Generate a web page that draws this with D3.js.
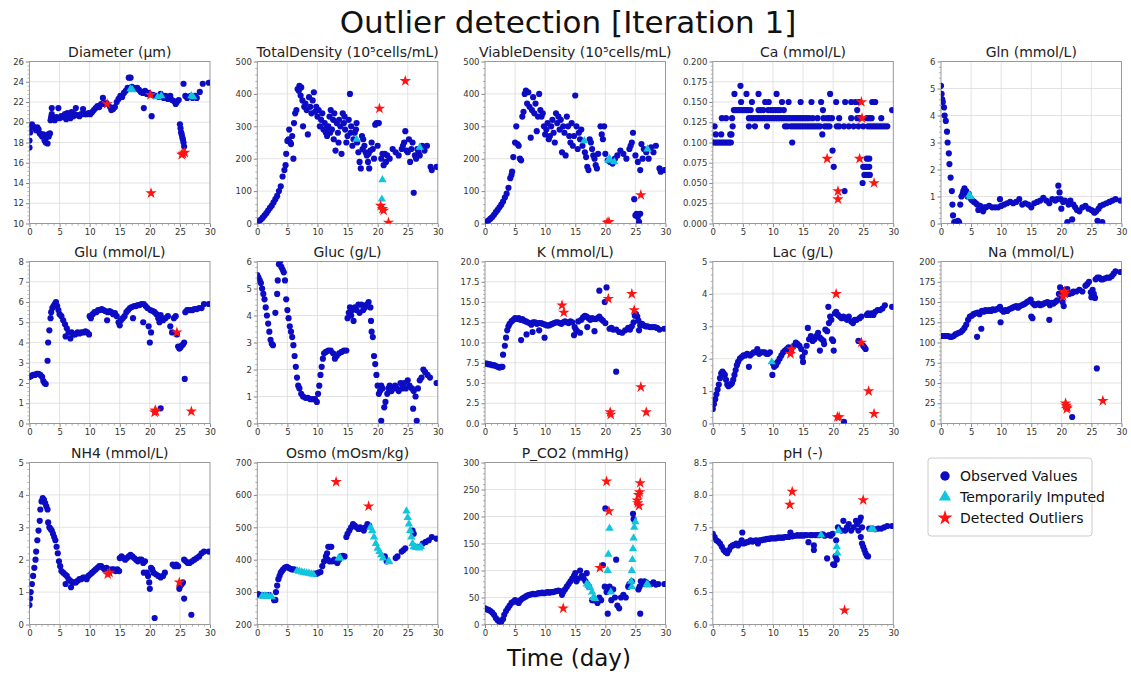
<!DOCTYPE html>
<html><head><meta charset="utf-8">
<script src="https://cdn.jsdelivr.net/npm/d3@7"></script>
<style>body{margin:0;background:#fff}svg{display:block}text{font-family:"DejaVu Sans",sans-serif}</style>
</head><body>
<svg id="c" width="1131" height="676"></svg>
<script>
// ---------- DATA ----------
const xTicks=[0,5,10,15,20,25,30];
const panelTitles=["Diameter (µm)","TotalDensity (10⁵cells/mL)","ViableDensity (10⁵cells/mL)","Ca (mmol/L)","Gln (mmol/L)","Glu (mmol/L)","Gluc (g/L)","K (mmol/L)","Lac (g/L)","Na (mmol/L)","NH4 (mmol/L)","Osmo (mOsm/kg)","P_CO2 (mmHg)","pH (-)"];
const diameterTicks=[10,12,14,16,18,20,22,24,26];
const densityTicks=[0,100,200,300,400,500];
const caTicks=[0,0.025,0.05,0.075,0.1,0.125,0.15,0.175,0.2];
const glnTicks=[0,1,2,3,4,5,6];
const gluTicks=[0,1,2,3,4,5,6,7,8];
const glucTicks=[0,1,2,3,4,5,6];
const kTicks=[0,2.5,5,7.5,10,12.5,15,17.5,20];
const lacTicks=[0,1,2,3,4,5];
const naTicks=[0,25,50,75,100,125,150,175,200];
const nh4Ticks=[0,1,2,3,4,5];
const osmoTicks=[200,300,400,500,600,700];
const pco2Ticks=[0,50,100,150,200,250,300];
const phTicks=[6.0,6.5,7.0,7.5,8.0,8.5];
const legendLabels=["Observed Values","Temporarily Imputed","Detected Outliers"];

const diameterObs=[[0,17.5],[0,18.2],[0.1,19.0],[0.2,19.5],[0.4,19.8],[0.6,19.6],[0.9,19.4],[1.1,19.2],[1.3,19.5],[1.5,19.3],[1.7,18.9],[1.9,18.8],[2.1,18.6],[2.3,18.8],[2.5,18.2],[2.7,18.0],[2.8,18.5],[3.0,17.9],[3.1,18.8],[3.2,18.6],[3.4,18.9],[3.5,20.2],[3.6,20.5],[3.7,20.8],[3.7,21.4],[3.8,20.3],[4.0,20.4],[4.2,20.2],[4.5,20.5],[4.8,21.4],[5.0,20.4],[5.3,20.6],[5.6,20.5],[5.9,20.8],[6.1,20.3],[6.3,20.9],[6.5,20.6],[6.8,20.4],[7.0,21.0],[7.3,20.6],[7.5,20.8],[7.7,21.4],[8.0,20.7],[8.3,20.6],[8.6,20.8],[8.9,21.3],[9.2,20.8],[9.5,20.8],[9.8,20.9],[10.1,20.8],[10.4,21.0],[10.7,21.2],[11.0,21.4],[11.3,21.6],[11.6,21.5],[11.9,21.8],[12.2,22.4],[12.5,21.8],[12.8,21.9],[13.4,21.5],[13.6,21.2],[13.9,21.3],[14.2,21.5],[14.5,22.0],[14.8,22.3],[15.1,22.6],[15.4,22.5],[15.7,22.9],[16.0,23.1],[16.3,23.4],[16.5,24.4],[16.8,24.4],[17.0,23.5],[17.3,23.4],[17.6,23.3],[17.9,23.4],[18.2,23.2],[18.5,23.0],[18.8,22.9],[19.0,21.4],[19.2,23.1],[19.5,22.8],[19.8,22.9],[20.3,20.6],[20.5,22.7],[21.0,22.6],[21.5,22.5],[21.8,22.8],[22.3,22.4],[22.6,22.6],[23.0,22.3],[23.4,22.6],[23.7,22.2],[24.0,22.1],[24.3,21.8],[24.5,22.0],[24.8,22.2],[25.0,19.8],[25.1,19.4],[25.2,19.0],[25.3,18.8],[25.4,18.5],[25.5,18.3],[25.6,18.0],[25.7,17.6],[25.6,23.8],[25.9,22.6],[26.2,22.4],[26.5,22.5],[26.8,22.6],[27.1,22.4],[27.5,22.6],[27.8,22.4],[28.3,23.0],[28.8,23.8],[29.8,23.9]];
const diameterImp=[[16.8,23.3],[17.1,23.2],[21.3,22.5],[21.9,22.6],[26.9,22.6],[27.2,22.5]];
const diameterOut=[[12.9,21.8],[20.1,22.7],[20.2,13.0],[25.3,16.8],[25.5,16.9],[25.8,17.0]];

const totalObs=[[0,5],[0.3,8],[0.6,12],[0.9,18],[1.2,25],[1.5,32],[1.8,40],[2.1,48],[2.4,55],[2.7,65],[3.0,75],[3.3,85],[3.6,100],[3.9,115],[4.2,145],[4.5,165],[4.7,180],[4.8,215],[5.0,255],[5.2,260],[5.3,290],[5.5,250],[5.6,245],[5.8,270],[6.0,200],[6.1,310],[6.3,340],[6.5,350],[6.7,415],[6.9,410],[7.0,425],[7.2,395],[7.3,420],[7.5,380],[7.6,300],[7.8,360],[8.0,370],[8.2,350],[8.4,275],[8.6,390],[8.8,360],[9.0,340],[9.2,380],[9.4,405],[9.6,345],[9.8,360],[10.0,330],[10.2,350],[10.4,300],[10.6,320],[10.8,340],[11.0,290],[11.2,310],[11.4,280],[11.5,295],[11.6,270],[11.8,300],[12.0,330],[12.1,280],[12.2,350],[12.4,290],[12.6,320],[12.7,260],[12.8,340],[13.0,225],[13.2,310],[13.4,280],[13.5,250],[13.6,320],[13.8,300],[14.0,215],[14.2,340],[14.4,310],[14.5,330],[14.6,290],[14.8,250],[15.0,270],[15.2,320],[15.4,400],[15.5,280],[15.6,300],[15.8,240],[16.0,260],[16.2,280],[16.4,290],[16.5,310],[16.6,250],[16.8,220],[17.0,190],[17.2,170],[17.4,270],[17.5,230],[17.6,260],[17.8,240],[18.0,220],[18.2,210],[18.4,190],[18.5,215],[18.6,170],[18.8,225],[19.0,250],[19.2,230],[19.4,200],[19.6,305],[19.8,310],[20.0,240],[20.2,310],[20.6,200],[20.8,215],[21.0,180],[21.2,215],[21.4,190],[21.6,210],[22.0,200],[22.5,230],[23.0,220],[23.5,210],[24.0,230],[24.2,240],[24.4,250],[24.6,285],[24.8,225],[25.0,220],[25.2,260],[25.4,190],[25.6,230],[25.8,250],[26.0,95],[26.2,210],[26.4,200],[26.6,230],[26.8,220],[27.0,210],[27.4,240],[27.8,225],[28.2,240],[28.8,175],[29.0,165],[29.8,175]];
const totalImp=[[16.5,260],[20.8,135],[20.7,75],[27.0,235]];
const totalOut=[[20.3,355],[24.6,440],[20.5,55],[20.8,45],[21.0,40],[21.8,3]];

const viableObs=[[0,3],[0.3,6],[0.6,10],[0.9,15],[1.2,20],[1.5,27],[1.8,35],[2.1,42],[2.4,50],[2.7,58],[3.0,68],[3.3,80],[3.6,92],[3.9,110],[4.2,140],[4.4,150],[4.5,160],[4.7,205],[5.0,250],[5.2,300],[5.4,245],[5.6,240],[5.8,200],[6.0,195],[6.2,330],[6.4,345],[6.6,400],[6.8,410],[7.0,370],[7.2,405],[7.4,360],[7.6,265],[7.8,350],[8.0,390],[8.2,340],[8.4,370],[8.6,285],[8.8,330],[9.0,400],[9.2,350],[9.4,330],[9.6,340],[9.8,300],[10.0,275],[10.2,290],[10.4,310],[10.6,260],[10.8,270],[11.0,300],[11.2,320],[11.4,280],[11.6,250],[11.8,340],[12.0,310],[12.2,330],[12.4,290],[12.6,320],[12.8,220],[13.0,300],[13.2,280],[13.4,210],[13.6,330],[13.8,300],[14.0,270],[14.2,250],[14.4,310],[14.6,240],[14.8,270],[15.0,395],[15.2,300],[15.4,230],[15.6,280],[15.8,260],[16.0,290],[16.2,240],[16.6,220],[16.8,205],[17.0,175],[17.2,165],[17.4,260],[17.6,250],[17.8,230],[18.0,210],[18.2,200],[18.4,180],[18.6,170],[18.8,215],[19.2,300],[19.4,275],[19.6,260],[19.8,300],[20.0,215],[20.4,195],[20.8,190],[21.2,185],[21.6,200],[22.0,210],[22.5,225],[23.0,215],[23.5,200],[24.0,230],[24.2,240],[24.4,250],[24.6,280],[24.8,75],[25.0,25],[25.2,30],[25.4,20],[25.6,5],[25.8,30],[25.0,210],[25.4,190],[25.8,165],[26.0,245],[26.2,200],[26.4,230],[26.8,220],[27.2,200],[27.6,235],[28.0,220],[28.4,240],[29.0,170],[29.2,160],[29.8,165]];
const viableImp=[[16.5,255],[20.5,195],[20.7,200],[21.5,190],[27.0,230]];
const viableOut=[[20.3,3],[20.6,5],[25.9,88]];

const caObs=[[0,0.1],[0.3,0.1],[0.6,0.1],[0.9,0.1],[1.2,0.1],[1.5,0.1],[1.8,0.1],[2.1,0.1],[2.4,0.1],[2.7,0.1],[3.0,0.1],[13.2,0.1],
[0.5,0.11],[1.4,0.11],[2.9,0.11],[3.1,0.11],[18.2,0.11],
[0.3,0.12],[3.3,0.12],[6.0,0.12],[7.0,0.12],[9.0,0.12],[12.0,0.12],[12.4,0.12],[13.0,0.12],[13.4,0.12],[13.8,0.12],[14.2,0.12],[14.6,0.12],[15.0,0.12],[15.4,0.12],[15.8,0.12],[16.2,0.12],[16.6,0.12],[17.0,0.12],[17.4,0.12],[17.8,0.12],[18.6,0.12],[19.0,0.12],[19.4,0.12],[20.6,0.12],[21.0,0.12],[21.8,0.12],[22.6,0.12],[23.4,0.12],[24.2,0.12],[25.0,0.12],[25.8,0.12],[26.2,0.12],[26.6,0.12],[27.0,0.12],[27.4,0.12],[27.8,0.12],[28.2,0.12],[28.6,0.12],[29.0,0.12],
[1.5,0.13],[2.2,0.13],[3.2,0.13],[6.0,0.13],[6.4,0.13],[6.8,0.13],[7.2,0.13],[7.6,0.13],[8.0,0.13],[8.4,0.13],[8.8,0.13],[9.2,0.13],[9.6,0.13],[10.0,0.13],[10.4,0.13],[10.8,0.13],[11.2,0.13],[11.6,0.13],[12.0,0.13],[12.4,0.13],[12.8,0.13],[13.2,0.13],[13.6,0.13],[14.0,0.13],[14.4,0.13],[14.8,0.13],[15.2,0.13],[15.6,0.13],[16.0,0.13],[16.6,0.13],[17.4,0.13],[18.4,0.13],[19.0,0.13],[19.4,0.13],[19.8,0.13],[21.0,0.13],[23.0,0.13],[24.0,0.13],[24.4,0.13],[25.6,0.13],[26.0,0.13],[26.4,0.13],[28.0,0.13],
[3.5,0.14],[3.8,0.14],[4.1,0.14],[4.4,0.14],[4.7,0.14],[5.0,0.14],[5.3,0.14],[5.6,0.14],[5.9,0.14],[6.3,0.14],[7.6,0.14],[8.0,0.14],[8.4,0.14],[9.2,0.14],[9.6,0.14],[10.0,0.14],[10.4,0.14],[10.8,0.14],[11.2,0.14],[11.8,0.14],[18.3,0.14],[24.0,0.14],[29.8,0.14],
[4.7,0.15],[6.5,0.15],[8.7,0.15],[9.3,0.15],[11.5,0.15],[12.6,0.15],[14.6,0.15],[16.4,0.15],[18.0,0.15],[20.5,0.15],[22.0,0.15],[23.0,0.15],[23.7,0.15],[24.3,0.15],[26.5,0.15],[27.0,0.15],
[3.6,0.16],[5.6,0.16],[7.6,0.16],[10.6,0.16],[19.5,0.16],[4.6,0.17],
[19.9,0.09],[20.1,0.07],[21.9,0.04],[24.9,0.05],[25.6,0.08],[26.0,0.08],[25.0,0.07],[25.3,0.07],[25.6,0.07],[26.0,0.07],[25.2,0.06],[25.5,0.06],[25.8,0.06],[26.1,0.06]];
const caImp=[];
const caOut=[[19.0,0.08],[20.8,0.04],[20.8,0.03],[24.4,0.08],[24.7,0.15],[24.8,0.13],[26.8,0.05]];

const glnObs=[[0,5.1],[0.1,4.8],[0.2,4.6],[0.3,4.5],[0.5,4.3],[0.6,4.0],[0.8,3.8],[1.0,3.4],[1.1,3.0],[1.3,2.6],[1.4,2.2],[1.6,1.7],[1.8,1.2],[1.9,0.7],[2.0,0.3],[2.2,0.05],[2.5,0.05],[2.8,0.1],[3.0,0.05],[3.2,0.7],[3.4,1.0],[3.6,1.1],[3.7,1.2],[3.9,1.3],[4.0,1.1],[4.2,1.2],[4.4,1.0],[4.6,1.1],[5.0,0.9],[5.2,0.85],[5.5,0.8],[5.8,0.75],[6.0,0.7],[6.2,0.5],[6.5,0.65],[6.7,0.6],[7.0,0.45],[7.2,0.6],[7.5,0.6],[8.0,0.65],[8.5,0.6],[9.0,0.6],[9.5,0.6],[9.8,0.9],[10.0,0.65],[10.5,0.7],[11.0,0.75],[11.5,0.8],[12.0,0.75],[12.5,0.8],[13.0,0.9],[13.5,0.7],[14.0,0.75],[14.5,0.7],[15.0,0.6],[15.5,0.75],[16.0,0.8],[16.5,0.85],[17.0,0.95],[17.5,0.85],[18.0,0.75],[18.5,0.9],[19.0,0.85],[19.3,0.9],[19.5,1.4],[19.7,1.15],[19.9,0.9],[20.0,0.55],[20.3,0.8],[20.6,0.85],[21.0,0.05],[21.2,0.7],[21.5,0.85],[21.8,0.15],[22.0,0.7],[22.3,0.6],[22.6,0.5],[23.0,0.45],[23.5,0.6],[24.0,0.65],[24.5,0.55],[25.0,0.5],[25.3,0.45],[25.5,0.4],[25.8,0.45],[26.0,0.1],[26.2,0.55],[26.5,0.65],[26.8,0.05],[27.0,0.7],[27.5,0.75],[28.0,0.8],[28.5,0.85],[29.0,0.9],[29.8,0.85]];
const glnImp=[[4.7,1.05],[4.9,1.0]];
const glnOut=[];

const gluObs=[[0,2.3],[0.3,2.35],[0.6,2.4],[0.9,2.4],[1.2,2.45],[1.5,2.45],[1.8,2.4],[2.1,2.3],[2.3,2.1],[2.5,2.0],[2.7,1.95],[3.0,3.1],[3.1,4.0],[3.3,4.6],[3.5,5.2],[3.6,5.5],[3.8,5.7],[4.0,5.8],[4.2,5.9],[4.4,6.0],[4.6,5.8],[4.8,5.6],[5.0,5.4],[5.3,5.3],[5.6,5.1],[5.9,4.9],[6.0,4.3],[6.2,4.7],[6.5,4.5],[6.8,4.2],[7.0,4.5],[7.3,4.4],[7.6,4.4],[8.0,4.5],[8.3,4.45],[8.6,4.5],[9.0,4.5],[9.3,4.55],[9.6,4.5],[9.9,4.4],[10.0,5.3],[10.2,5.2],[10.5,5.4],[10.8,5.5],[11.1,5.5],[11.4,5.6],[11.7,5.6],[12.0,5.65],[12.3,5.6],[12.6,5.55],[12.9,5.1],[13.0,5.5],[13.3,5.55],[13.6,5.5],[13.9,5.4],[14.2,5.45],[14.5,5.3],[14.8,5.0],[15.0,4.85],[15.2,5.1],[15.5,5.2],[15.8,5.3],[16.1,5.5],[16.4,5.6],[16.7,5.7],[17.0,5.75],[17.2,5.2],[17.4,5.8],[17.7,5.8],[18.0,5.85],[18.3,5.85],[18.6,5.9],[18.9,5.0],[19.0,5.9],[19.3,5.8],[19.6,5.7],[19.8,4.8],[20.0,4.0],[20.1,5.6],[20.2,4.5],[20.5,5.55],[20.8,5.5],[21.1,5.4],[21.4,5.2],[21.6,5.0],[21.8,5.35],[21.8,0.75],[22.2,5.1],[22.6,5.2],[23.0,5.3],[23.4,4.8],[23.7,4.5],[24.0,5.2],[24.3,5.3],[24.5,4.4],[24.7,3.8],[24.9,3.7],[25.1,3.75],[25.3,3.85],[25.5,3.9],[25.7,4.0],[25.8,2.2],[25.9,5.5],[26.2,5.6],[26.5,5.6],[26.8,5.6],[27.1,5.6],[27.4,5.65],[27.8,5.65],[28.2,5.7],[28.6,5.7],[29.0,5.9],[29.8,5.9]];
const gluImp=[];
const gluOut=[[20.8,0.55],[21.0,0.6],[20.9,0.65],[24.5,4.5],[26.9,0.6]];

const glucObs=[[0,5.5],[0.2,5.4],[0.4,5.3],[0.6,5.2],[0.8,5.0],[1.0,4.8],[1.2,4.6],[1.4,4.3],[1.6,4.0],[1.8,3.7],[2.0,3.4],[2.2,3.1],[2.4,2.95],[2.6,2.9],[3.0,4.1],[3.3,4.8],[3.4,5.3],[3.6,5.9],[3.8,6.0],[4.0,5.8],[4.2,5.7],[4.4,5.6],[4.6,5.3],[4.8,4.6],[5.0,4.2],[5.2,3.9],[5.4,3.6],[5.6,3.4],[5.8,3.2],[6.0,2.9],[6.2,2.5],[6.4,2.1],[6.6,1.7],[6.8,1.4],[7.0,1.3],[7.3,1.1],[7.6,1.0],[8.0,0.95],[8.4,0.95],[8.8,0.9],[9.2,0.9],[9.6,0.9],[9.9,0.8],[10.1,1.1],[10.3,1.4],[10.5,1.8],[10.7,2.1],[10.9,2.4],[11.1,2.6],[11.4,2.65],[11.8,2.7],[12.2,2.7],[12.6,2.6],[12.9,2.4],[13.2,2.5],[13.6,2.6],[14.0,2.65],[14.4,2.7],[14.8,2.7],[15.0,3.9],[15.2,4.1],[15.4,4.3],[15.6,4.0],[15.8,4.2],[16.0,3.8],[16.2,4.3],[16.5,4.2],[16.8,4.4],[17.0,4.1],[17.3,4.4],[17.6,4.2],[17.9,4.3],[18.2,4.4],[18.5,4.5],[18.8,4.3],[18.9,3.8],[19.0,3.4],[19.2,3.2],[19.4,2.5],[19.6,2.2],[19.8,1.8],[20.0,1.4],[20.2,1.1],[20.4,1.2],[20.6,0.1],[20.6,1.4],[20.8,1.3],[21.1,0.6],[21.3,0.8],[21.6,1.1],[21.8,1.3],[22.0,1.4],[22.3,1.2],[22.6,1.3],[22.9,1.4],[23.2,1.3],[23.5,1.2],[23.8,1.5],[24.1,1.3],[24.4,1.5],[24.7,1.3],[25.0,1.6],[25.3,1.4],[25.9,0.55],[25.7,1.3],[26.0,1.2],[26.3,1.0],[26.5,0.1],[26.7,1.3],[27.0,1.6],[27.3,1.7],[27.6,2.0],[27.9,1.9],[28.3,1.8],[28.7,1.7],[29.8,1.5]];
const glucImp=[];
const glucOut=[];

const kObs=[[0,7.4],[0.3,7.4],[0.6,7.3],[0.9,7.3],[1.2,7.2],[1.5,7.2],[1.8,7.1],[2.1,7.0],[2.4,6.9],[2.7,7.0],[2.9,7.0],[3.0,8.5],[3.3,9.6],[3.5,10.6],[3.7,11.5],[3.9,12.0],[4.1,12.3],[4.4,12.6],[4.7,12.8],[5.0,13.0],[5.3,12.9],[5.6,13.0],[5.9,12.8],[6.0,10.3],[6.2,12.9],[6.5,12.7],[6.8,12.6],[6.9,11.0],[7.1,12.5],[7.4,12.4],[7.7,12.2],[7.9,11.3],[8.0,12.5],[8.3,12.5],[8.6,12.3],[8.9,12.4],[9.0,11.5],[9.3,12.4],[9.6,12.3],[9.9,10.6],[10.0,12.2],[10.3,12.1],[10.6,12.1],[10.9,12.2],[11.2,12.3],[11.5,12.4],[11.8,12.5],[12.1,12.5],[12.4,12.4],[12.7,12.3],[13.0,12.5],[13.3,12.6],[13.6,12.5],[13.9,12.4],[14.2,12.6],[14.5,12.5],[14.8,10.9],[14.9,11.9],[15.1,11.6],[15.3,11.4],[15.5,12.6],[15.8,11.2],[16.0,12.8],[16.3,13.1],[16.6,13.3],[16.9,13.2],[17.0,11.9],[17.2,13.0],[17.5,12.8],[17.8,13.0],[18.1,12.9],[18.2,11.4],[18.4,12.9],[18.7,13.0],[19.0,16.4],[19.0,13.2],[19.3,12.9],[19.6,12.7],[19.9,15.0],[20.0,12.4],[20.2,16.8],[20.7,11.7],[21.0,11.8],[21.3,11.6],[21.8,6.4],[21.8,11.6],[22.3,11.3],[22.8,11.2],[23.3,11.5],[23.8,11.8],[24.1,11.6],[24.4,12.0],[24.7,12.5],[24.9,13.3],[25.1,13.5],[25.3,13.2],[25.5,12.7],[25.6,11.5],[25.8,12.1],[26.1,12.3],[26.4,12.1],[26.7,12.0],[27.0,12.0],[27.4,11.9],[27.8,11.9],[28.2,11.9],[28.6,11.8],[29.0,11.6],[29.8,11.7]];
const kImp=[];
const kOut=[[12.8,14.6],[13.1,13.7],[20.5,15.4],[20.8,1.4],[20.9,1.1],[24.4,16.0],[24.8,14.0],[25.9,4.5],[26.8,1.4]];

const lacObs=[[0,0.45],[0.2,0.6],[0.4,0.75],[0.6,0.9],[0.8,1.05],[1.0,1.2],[1.2,1.4],[1.4,1.55],[1.6,1.6],[1.8,1.55],[2.0,1.5],[2.2,1.35],[2.4,1.2],[2.6,1.15],[2.8,1.2],[3.0,1.2],[3.2,1.25],[3.4,1.35],[3.6,1.5],[3.8,1.65],[4.0,1.8],[4.2,1.9],[4.5,2.0],[4.8,2.05],[5.1,2.1],[5.4,2.1],[5.7,2.15],[6.0,1.75],[6.2,2.1],[6.5,2.15],[6.8,2.2],[7.1,2.2],[7.4,2.3],[7.7,2.15],[8.0,2.2],[8.3,2.2],[8.6,2.2],[8.9,2.15],[9.2,2.15],[9.5,2.2],[9.9,1.5],[10.0,1.85],[10.2,1.75],[10.5,1.8],[10.8,1.9],[11.1,2.0],[11.4,2.1],[11.7,2.2],[12.0,2.25],[12.3,2.3],[12.6,2.35],[12.9,2.2],[13.2,2.35],[13.5,2.4],[13.8,2.5],[14.1,2.45],[14.4,2.4],[14.7,2.3],[14.9,2.05],[15.0,1.9],[15.3,2.2],[15.6,2.4],[15.8,2.95],[16.0,2.6],[16.3,2.7],[16.6,2.55],[16.9,2.6],[17.2,2.7],[17.5,2.8],[17.8,2.65],[17.8,2.25],[18.1,2.6],[18.4,2.55],[18.5,2.45],[18.7,2.9],[19.0,2.85],[19.2,3.6],[19.3,3.1],[19.5,3.3],[19.7,3.2],[19.8,2.6],[20.0,2.55],[20.1,2.25],[20.3,3.4],[20.5,3.45],[20.8,3.35],[21.1,3.3],[21.4,3.25],[21.7,3.3],[21.8,0.05],[22.0,3.25],[22.3,3.2],[22.6,3.3],[23.0,3.15],[23.3,3.1],[23.6,3.2],[23.9,3.2],[24.2,2.55],[24.4,3.25],[24.7,3.3],[25.0,2.4],[25.2,2.35],[25.4,2.3],[25.6,3.35],[25.8,3.4],[26.1,3.35],[26.4,3.4],[26.7,3.35],[27.0,3.45],[27.4,3.5],[27.8,3.5],[28.2,3.55],[28.6,3.65],[29.8,3.6]];
const lacImp=[[9.8,1.9]];
const lacOut=[[12.9,2.15],[13.1,2.3],[20.5,4.0],[20.7,0.2],[21.0,0.2],[24.7,2.5],[25.9,1.0],[26.8,0.3]];

const naObs=[[0,108],[0.3,108],[0.6,108],[0.9,108],[1.2,108],[1.5,107],[1.8,107],[2.1,108],[2.4,110],[2.7,111],[3.0,112],[3.3,113],[3.6,115],[3.9,118],[4.2,122],[4.5,128],[4.8,132],[5.1,133],[5.4,135],[5.7,136],[6.0,107],[6.1,137],[6.4,135],[6.7,117],[6.8,139],[7.1,138],[7.4,140],[7.7,139],[8.0,140],[8.3,139],[8.6,141],[8.9,140],[9.2,141],[9.5,142],[9.8,144],[9.9,125],[10.1,140],[10.4,138],[10.7,140],[11.0,139],[11.3,141],[11.6,142],[11.9,143],[12.2,144],[12.5,145],[12.8,143],[13.1,145],[13.4,146],[13.7,147],[14.0,148],[14.3,150],[14.6,151],[14.9,153],[15.0,132],[15.2,130],[15.3,148],[15.6,146],[15.9,147],[16.2,148],[16.5,146],[16.8,147],[17.1,148],[17.4,149],[17.7,150],[18.0,128],[18.1,146],[18.4,149],[18.7,148],[19.0,150],[19.3,152],[19.6,160],[19.8,168],[20.0,157],[20.2,150],[20.4,145],[20.6,165],[20.8,163],[21.0,166],[21.3,160],[21.8,161],[21.8,8],[22.0,163],[22.5,163],[23.0,165],[23.5,163],[24.0,170],[24.3,172],[24.6,175],[24.9,162],[25.0,156],[25.2,165],[25.4,160],[25.6,155],[25.7,178],[25.9,68],[26.0,180],[26.3,180],[26.6,178],[26.9,178],[27.2,179],[27.6,180],[28.0,180],[28.4,182],[28.7,185],[29.0,188],[29.8,187]];
const naImp=[];
const naOut=[[20.3,157],[20.5,163],[20.6,160],[20.7,25],[20.8,22],[20.9,18],[21.0,20],[26.9,28]];

const nh4Obs=[[0,0.6],[0.1,0.8],[0.2,1.0],[0.4,1.25],[0.6,1.5],[0.8,1.75],[1.0,2.0],[1.1,2.25],[1.3,2.6],[1.5,2.9],[1.7,3.2],[1.8,3.55],[2.0,3.8],[2.2,3.9],[2.4,3.85],[2.6,3.75],[2.8,3.65],[3.0,3.55],[3.1,3.15],[3.3,3.0],[3.5,2.95],[3.7,2.9],[3.9,2.8],[4.1,2.7],[4.3,2.6],[4.5,2.4],[4.7,2.2],[4.9,1.95],[5.1,1.8],[5.3,1.65],[5.6,1.6],[5.9,1.55],[6.0,1.25],[6.2,1.5],[6.5,1.4],[6.8,1.35],[6.9,1.15],[7.1,1.3],[7.4,1.3],[7.7,1.3],[8.0,1.35],[8.3,1.4],[8.6,1.4],[8.9,1.45],[9.2,1.45],[9.5,1.4],[9.8,1.5],[10.1,1.55],[10.4,1.6],[10.7,1.65],[11.0,1.7],[11.3,1.75],[11.6,1.8],[11.9,1.8],[12.2,1.75],[12.5,1.7],[12.8,1.75],[13.1,1.7],[13.4,1.65],[13.7,1.7],[14.0,1.7],[14.3,1.65],[14.6,1.7],[14.9,1.65],[15.0,2.05],[15.3,2.1],[15.6,2.05],[15.9,2.0],[16.2,2.05],[16.5,2.1],[16.8,2.15],[17.1,2.1],[17.4,2.05],[17.7,2.0],[18.0,1.95],[18.3,2.0],[18.6,2.0],[18.9,1.9],[19.0,1.6],[19.2,1.95],[19.5,1.6],[19.7,1.5],[19.9,1.3],[20.0,1.1],[20.2,1.75],[20.4,1.7],[20.6,1.6],[20.8,0.2],[21.0,1.55],[21.4,1.5],[21.8,1.45],[22.2,1.5],[22.5,1.6],[23.8,1.85],[24.1,1.8],[24.4,1.85],[24.7,1.8],[24.9,1.1],[25.1,1.2],[25.3,1.25],[25.5,1.3],[25.7,0.8],[25.7,2.0],[26.0,1.95],[26.3,1.9],[26.6,1.9],[26.9,0.3],[27.0,1.95],[27.4,2.0],[27.8,2.05],[28.2,2.1],[28.6,2.2],[29.0,2.25],[29.8,2.25]];
const nh4Imp=[];
const nh4Out=[[13.0,1.55],[13.3,1.6],[24.9,1.3]];

const osmoObs=[[0,295],[0.3,292],[0.6,290],[1.0,290],[1.4,289],[1.7,290],[2.0,291],[2.8,275],[3.0,276],[3.1,300],[3.3,320],[3.5,340],[3.7,350],[3.9,360],[4.1,365],[4.3,370],[4.6,376],[4.9,378],[5.2,375],[5.5,372],[5.8,370],[6.1,370],[6.4,368],[9.6,357],[9.9,357],[10.2,360],[10.5,362],[10.8,380],[11.1,395],[11.4,410],[11.6,420],[11.8,440],[12.1,440],[12.3,440],[11.7,400],[12.0,395],[12.4,395],[12.8,400],[13.0,395],[13.3,390],[13.6,400],[13.9,410],[14.2,412],[14.5,410],[14.8,470],[15.0,480],[15.3,490],[15.6,500],[15.9,510],[16.2,505],[16.5,500],[16.8,495],[17.1,500],[17.4,495],[17.7,490],[18.0,500],[18.3,510],[18.6,505],[21.2,410],[21.5,395],[23.0,405],[23.3,410],[24.0,425],[24.3,430],[24.6,435],[25.8,490],[26.0,480],[26.3,440],[27.0,440],[27.5,450],[28.0,455],[28.5,460],[29.0,470],[29.8,465]];
const osmoImp=[[0.8,288],[1.2,288],[1.6,287],[2.0,286],[2.4,285],[6.6,366],[7.0,364],[7.4,362],[7.8,360],[8.2,359],[8.6,358],[9.0,356],[9.3,355],[13.5,405],[13.8,405],[18.8,500],[19.1,490],[19.4,470],[19.7,450],[20.0,435],[20.3,425],[20.6,415],[20.9,405],[21.8,393],[21.9,395],[24.8,550],[25.0,530],[25.2,510],[25.4,490],[25.6,470],[25.8,450],[26.0,440],[26.3,438],[26.6,437],[26.9,436],[27.2,440]];
const osmoOut=[[13.1,640],[18.5,565]];

const pco2Obs=[[0,30],[0.3,28],[0.6,27],[0.9,25],[1.2,22],[1.5,18],[1.8,12],[2.1,8],[2.4,5],[2.7,5],[3.0,10],[3.2,18],[3.5,25],[3.8,30],[4.1,35],[4.4,40],[4.7,42],[5.0,45],[5.3,42],[5.6,40],[5.9,45],[6.2,48],[6.5,50],[6.8,52],[7.1,54],[7.4,55],[7.7,56],[8.0,57],[8.3,56],[8.6,57],[8.9,58],[9.2,58],[9.5,59],[9.8,58],[10.1,59],[10.4,60],[10.7,59],[11.0,60],[11.3,60],[11.6,61],[11.9,62],[12.2,63],[12.5,62],[12.8,55],[13.0,60],[13.3,65],[13.6,70],[13.9,75],[14.2,80],[14.5,85],[14.8,90],[15.0,95],[15.2,80],[15.5,85],[15.8,100],[16.1,90],[16.4,85],[16.7,80],[16.9,95],[17.0,75],[17.3,70],[17.8,45],[18.1,45],[18.4,45],[18.7,40],[19.0,50],[19.3,45],[19.6,110],[19.9,70],[20.0,215],[20.2,60],[20.4,20],[20.5,65],[20.7,70],[21.0,45],[21.3,65],[21.6,50],[21.8,120],[22.0,35],[22.3,30],[22.6,50],[23.0,55],[23.4,50],[23.8,70],[24.0,75],[24.4,80],[24.6,205],[24.7,195],[25.5,65],[25.7,70],[25.8,20],[25.9,80],[26.2,75],[26.5,80],[26.8,78],[27.2,75],[27.6,75],[28.0,78],[28.4,74],[28.8,75],[29.8,75]];
const pco2Imp=[[16.9,75],[17.2,72],[17.5,68],[17.8,60],[18.0,50],[18.3,48],[20.4,100],[20.5,130],[20.7,178],[20.9,60],[24.3,80],[24.4,100],[24.5,120],[24.6,140],[24.7,160],[24.8,180],[25.0,190],[24.4,70],[26.9,75],[27.1,73]];
const pco2Out=[[13.0,30],[19.1,105],[20.2,265],[20.6,210],[25.3,230],[25.4,225],[25.5,240],[25.6,220],[25.7,245],[25.8,262]];

const phObs=[[0,7.4],[0.3,7.35],[0.6,7.3],[0.9,7.28],[1.2,7.25],[1.5,7.2],[1.8,7.15],[2.1,7.12],[2.4,7.1],[2.7,7.15],[3.0,7.2],[3.3,7.22],[3.6,7.23],[3.9,7.25],[4.2,7.22],[4.5,7.25],[4.8,7.3],[4.9,7.42],[5.1,7.25],[5.4,7.26],[5.7,7.27],[6.0,7.28],[6.3,7.3],[6.6,7.28],[6.9,7.29],[7.2,7.3],[7.5,7.25],[7.8,7.3],[8.1,7.3],[8.4,7.31],[8.7,7.31],[9.0,7.32],[9.3,7.32],[9.6,7.33],[9.9,7.33],[10.2,7.33],[10.5,7.33],[10.8,7.34],[11.1,7.34],[11.4,7.34],[11.7,7.34],[12.0,7.35],[12.3,7.35],[12.6,7.35],[12.9,7.42],[13.2,7.36],[13.5,7.37],[13.8,7.37],[14.1,7.38],[14.4,7.37],[14.7,7.38],[15.0,7.37],[15.3,7.38],[15.6,7.38],[15.9,7.27],[16.2,7.38],[16.5,7.38],[16.8,7.22],[16.8,7.15],[17.0,7.38],[17.4,7.38],[17.7,7.38],[18.3,7.39],[18.6,7.37],[19.0,7.02],[19.3,7.38],[19.6,7.37],[19.9,7.4],[20.0,6.93],[20.2,6.92],[20.4,7.05],[20.6,7.0],[20.5,7.3],[20.8,7.5],[21.0,7.47],[21.4,7.45],[21.7,7.6],[22.0,7.45],[22.3,7.5],[22.6,7.55],[23.0,7.45],[23.4,7.5],[23.8,7.6],[24.0,7.55],[24.2,7.45],[24.4,7.6],[24.6,7.65],[24.8,7.5],[24.6,7.35],[24.8,7.25],[25.0,7.2],[25.2,7.15],[25.4,7.1],[25.6,7.06],[25.8,7.05],[26.0,7.48],[26.5,7.48],[27.0,7.47],[27.5,7.48],[28.0,7.48],[28.5,7.5],[29.0,7.52],[29.8,7.52]];
const phImp=[[18.0,7.38],[20.6,7.2],[20.7,7.1],[20.9,7.45],[26.3,7.47],[26.7,7.47]];
const phOut=[[12.8,7.85],[13.2,8.05],[21.9,6.22],[25.0,7.92]];

// ---------- PANELS ----------
const panels=[
 {obs:diameterObs,imp:diameterImp,out:diameterOut,ticks:diameterTicks,fmt:d3.format("d")},
 {obs:totalObs,imp:totalImp,out:totalOut,ticks:densityTicks,fmt:d3.format("d")},
 {obs:viableObs,imp:viableImp,out:viableOut,ticks:densityTicks,fmt:d3.format("d")},
 {obs:caObs,imp:caImp,out:caOut,ticks:caTicks,fmt:d3.format(".3f")},
 {obs:glnObs,imp:glnImp,out:glnOut,ticks:glnTicks,fmt:d3.format("d")},
 {obs:gluObs,imp:gluImp,out:gluOut,ticks:gluTicks,fmt:d3.format("d")},
 {obs:glucObs,imp:glucImp,out:glucOut,ticks:glucTicks,fmt:d3.format("d")},
 {obs:kObs,imp:kImp,out:kOut,ticks:kTicks,fmt:d3.format(".1f")},
 {obs:lacObs,imp:lacImp,out:lacOut,ticks:lacTicks,fmt:d3.format("d")},
 {obs:naObs,imp:naImp,out:naOut,ticks:naTicks,fmt:d3.format("d")},
 {obs:nh4Obs,imp:nh4Imp,out:nh4Out,ticks:nh4Ticks,fmt:d3.format("d")},
 {obs:osmoObs,imp:osmoImp,out:osmoOut,ticks:osmoTicks,fmt:d3.format("d")},
 {obs:pco2Obs,imp:pco2Imp,out:pco2Out,ticks:pco2Ticks,fmt:d3.format("d")},
 {obs:phObs,imp:phImp,out:phOut,ticks:phTicks,fmt:d3.format(".1f")}
];
panels.forEach((p,i)=>p.title=panelTitles[i]);

// ---------- LAYOUT ----------
const colX=[29.5,257.3,485,712.8,941], rowY=[61.5,261.5,462.5], PW=180.5, PH=162;
const C_OBS="#0c0cc4", C_IMP="#10c6dc", C_OUT="#ff1414";
const svg=d3.select("#c");
svg.append("rect").attr("width",1131).attr("height",676).attr("fill","#fff");

svg.append("text").attr("x",568).attr("y",33).attr("text-anchor","middle")
  .attr("font-size",31).attr("fill","#111").text("Outlier detection [Iteration 1]");
svg.append("text").attr("x",569).attr("y",666).attr("text-anchor","middle")
  .attr("font-size",23).attr("fill","#111").text("Time (day)");

const circ=d3.symbol().type(d3.symbolCircle).size(30);
const tri=d3.symbol().type(d3.symbolTriangle).size(30);
const star=d3.symbol().type(d3.symbolStar).size(40);

panels.forEach((p,i)=>{
  const r=Math.floor(i/5), c=i%5;
  const L=colX[c], T=rowY[r];
  const x=d3.scaleLinear().domain([0,30]).range([L,L+PW]);
  const yd=d3.extent(p.ticks);
  const y=d3.scaleLinear().domain(yd).range([T+PH,T]);
  const g=svg.append("g");
  // grid
  g.selectAll(".gx").data(xTicks.slice(1,-1)).enter().append("line")
    .attr("x1",d=>x(d)).attr("x2",d=>x(d)).attr("y1",T).attr("y2",T+PH)
    .attr("stroke","#dcdcdc").attr("stroke-width",0.8);
  g.selectAll(".gy").data(p.ticks.slice(1,-1)).enter().append("line")
    .attr("y1",d=>y(d)).attr("y2",d=>y(d)).attr("x1",L).attr("x2",L+PW)
    .attr("stroke","#dcdcdc").attr("stroke-width",0.8);
  // minor ticks
  const xm=d3.range(0,31,1).filter(v=>v%5!==0);
  const st=(p.ticks[1]-p.ticks[0])/5;
  const ym=[];
  for(let k=0;k<p.ticks.length-1;k++) for(let j=1;j<5;j++) ym.push(p.ticks[k]+j*st);
  g.append("g").attr("transform",`translate(0,${T+PH})`)
    .call(d3.axisBottom(x).tickValues(xm).tickSize(2).tickFormat(""))
    .call(a=>a.select(".domain").remove()).selectAll("line").attr("stroke","#777").attr("stroke-width",0.6);
  g.append("g").attr("transform",`translate(${L},0)`)
    .call(d3.axisLeft(y).tickValues(ym).tickSize(2).tickFormat(""))
    .call(a=>a.select(".domain").remove()).selectAll("line").attr("stroke","#777").attr("stroke-width",0.6);
  // major axes
  const ax=g.append("g").attr("transform",`translate(0,${T+PH})`)
    .call(d3.axisBottom(x).tickValues(xTicks).tickSize(3.5).tickPadding(2));
  const ay=g.append("g").attr("transform",`translate(${L},0)`)
    .call(d3.axisLeft(y).tickValues(p.ticks).tickFormat(p.fmt).tickSize(3.5).tickPadding(2));
  [ax,ay].forEach(a=>{
    a.select(".domain").remove();
    a.selectAll("line").attr("stroke","#666").attr("stroke-width",0.8);
    a.selectAll("text").attr("font-family","DejaVu Sans").attr("font-size",8.5).attr("fill","#333");
  });
  // frame
  g.append("rect").attr("x",L).attr("y",T).attr("width",PW).attr("height",PH)
    .attr("fill","none").attr("stroke","#999").attr("stroke-width",1);
  // title
  g.append("text").attr("x",L+PW/2).attr("y",T-5).attr("text-anchor","middle")
    .attr("font-size",14).attr("fill","#222").text(p.title);
  // clip
  const cid="clip"+i;
  svg.append("clipPath").attr("id",cid).append("rect").attr("x",L).attr("y",T).attr("width",PW).attr("height",PH);
  const m=g.append("g").attr("clip-path",`url(#${cid})`);
  m.selectAll(".o").data(p.obs).enter().append("path").attr("d",circ)
    .attr("transform",d=>`translate(${x(d[0])},${y(d[1])})`).attr("fill",C_OBS);
  m.selectAll(".i").data(p.imp).enter().append("path").attr("d",tri)
    .attr("transform",d=>`translate(${x(d[0])},${y(d[1])})`).attr("fill",C_IMP);
  m.selectAll(".s").data(p.out).enter().append("path").attr("d",star)
    .attr("transform",d=>`translate(${x(d[0])},${y(d[1])})`).attr("fill",C_OUT);
});

// legend
const lg=svg.append("g");
lg.append("rect").attr("x",928).attr("y",458).attr("width",164).attr("height",78).attr("rx",3)
  .attr("fill","#fff").attr("stroke","#ccc").attr("stroke-width",1);
const syms=[d3.symbol().type(d3.symbolCircle).size(70),d3.symbol().type(d3.symbolTriangle).size(65),d3.symbol().type(d3.symbolStar).size(70)];
const cols=[C_OBS,C_IMP,C_OUT];
legendLabels.forEach((t,k)=>{
  const yy=476+k*21;
  lg.append("path").attr("d",syms[k]).attr("transform",`translate(945,${yy})`).attr("fill",cols[k]);
  lg.append("text").attr("x",960).attr("y",yy+5).attr("font-size",14).attr("fill","#111").text(t);
});
</script>
</body></html>
